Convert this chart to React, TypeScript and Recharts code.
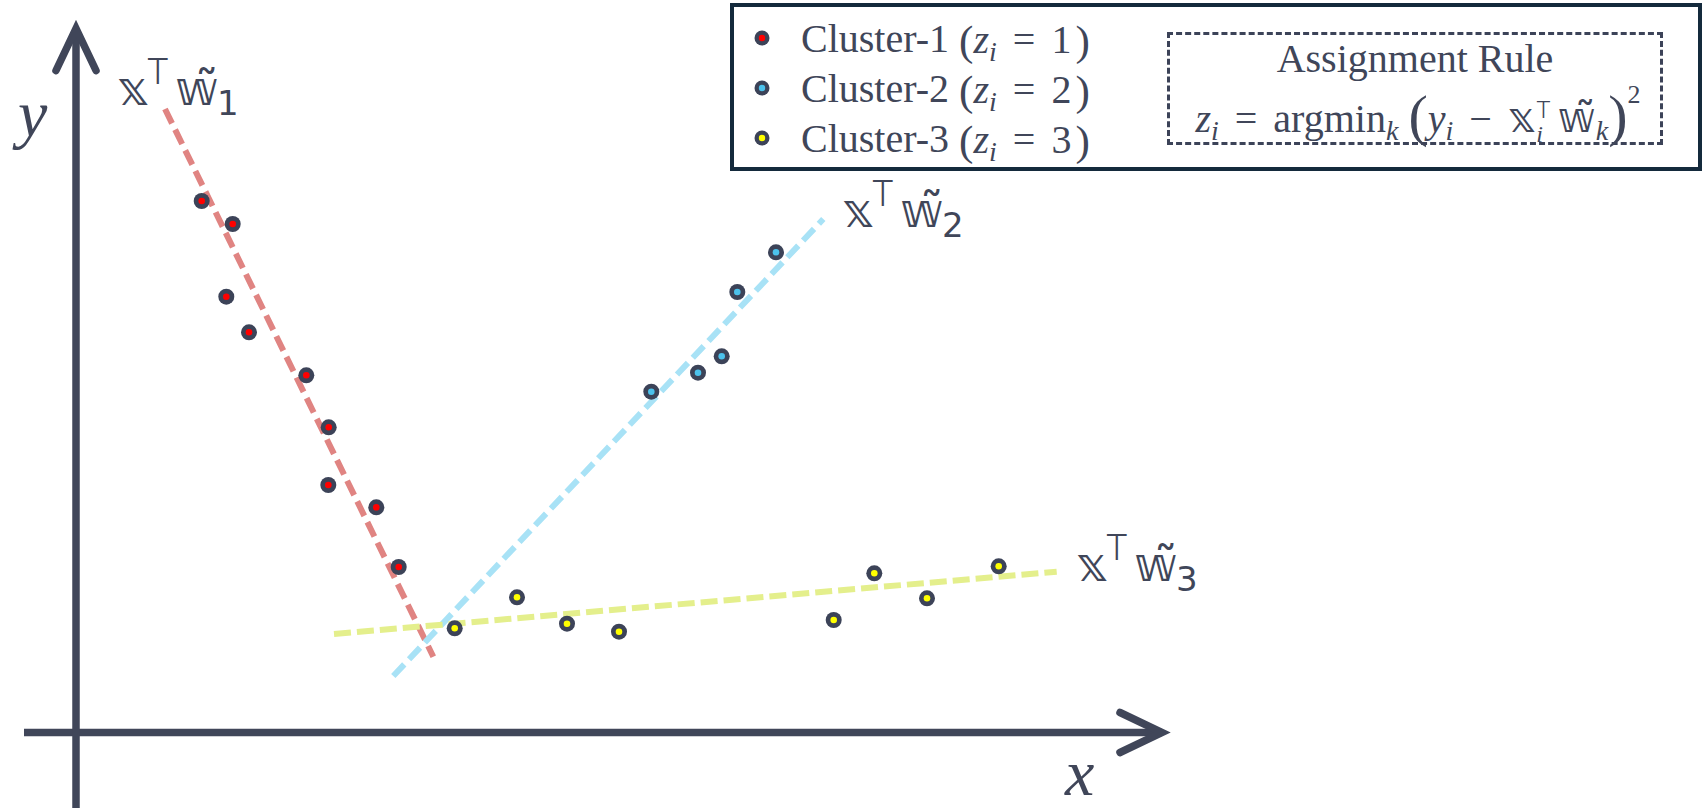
import { ScatterChart, Scatter, XAxis, YAxis, ReferenceLine, ReferenceDot, Legend } from 'recharts';

// units: tenths of a pixel from the point where the two axes cross
const clusterNames = ['Cluster-1', 'Cluster-2', 'Cluster-3'];
const clusterIds = [1, 2, 3];
const clusterColors = ['#ff0000', '#4cc2ec', '#ffff00'];
const fitColors = ['#e08482', '#a8e2f6', '#e4ef8c'];

const cluster1 = [
    { x: 12.57, y: 53.15 }, { x: 15.67, y: 50.85 }, { x: 15.03, y: 43.58 },
    { x: 17.3, y: 40.02 }, { x: 23.03, y: 35.72 }, { x: 25.27, y: 30.52 },
    { x: 25.23, y: 24.75 }, { x: 30.03, y: 22.52 }, { x: 32.27, y: 16.55 },
];
const cluster2 = [
    { x: 57.53, y: 34.08 }, { x: 62.2, y: 35.98 }, { x: 64.57, y: 37.62 },
    { x: 66.13, y: 44.05 }, { x: 70.0, y: 48.02 },
];
const cluster3 = [
    { x: 37.87, y: 10.42 }, { x: 44.1, y: 13.52 }, { x: 49.1, y: 10.88 },
    { x: 54.3, y: 10.08 }, { x: 75.77, y: 11.25 }, { x: 79.83, y: 15.92 },
    { x: 85.1, y: 13.42 }, { x: 92.27, y: 16.62 },
];

// fitted lines x^T w_k (end points)
const fit1 = [{ x: 8.9, y: 62.35 }, { x: 35.73, y: 7.58 }];
const fit2 = [{ x: 31.73, y: 5.65 }, { x: 74.73, y: 51.35 }];
const fit3 = [{ x: 25.8, y: 9.85 }, { x: 98.07, y: 16.08 }];

const fitLabelIdx = ['1', '2', '3'];
const fitLabelPos = [{ x: 4.1, y: 62.75 }, { x: 76.6, y: 50.55 }, { x: 100, y: 15.15 }];

const xAxisSeg = [{ x: -5.2, y: 0 }, { x: 108.6, y: 0 }];
const yAxisSeg = [{ x: 0, y: -7.55 }, { x: 0, y: 70.4 }];
const axisNames = ['x', 'y'];
const axisNamePos = [{ x: 98.9, y: -6.2 }, { x: -5.8, y: 59.65 }];

const xDomain = [-7.6, 162.8];
const yDomain = [-7.55, 73.25];

const INK = '#404659';
const RING = '#3c4358';

const dotShape = (color: string) => (p: any) => (
    <g>
        <circle cx={p.cx} cy={p.cy} r={8} fill={RING} />
        <circle cx={p.cx} cy={p.cy} r={3.3} fill={color} />
    </g>
);

const AxisArrow = (p: any) => {
    const { x1, y1, x2, y2 } = p;
    const len = Math.hypot(x2 - x1, y2 - y1) || 1;
    const ux = (x2 - x1) / len, uy = (y2 - y1) / len;
    const bx = x2 - ux * 42, by = y2 - uy * 42;
    const nx = -uy * 20, ny = ux * 20;
    return (
        <g stroke={INK} strokeWidth={7.5} fill="none">
            <line x1={x1} y1={y1} x2={x2} y2={y2} />
            <polyline points={`${bx + nx},${by + ny} ${x2},${y2} ${bx - nx},${by - ny}`} strokeLinecap="round" strokeLinejoin="miter" />
        </g>
    );
};

const FitLabel = (idx: string) => (p: any) => (
    <text x={p.cx} y={p.cy} fill={INK} fontFamily='"DejaVu Sans", "DejaVu Serif", sans-serif' fontSize={48}>
        <tspan x={p.cx} y={p.cy}>{'\u{1D569}'}</tspan>
        <tspan x={p.cx + 30} y={p.cy - 21} fontSize={36} fontFamily="Roboto, sans-serif" fontWeight={300}>T</tspan>
        <tspan x={p.cx + 58} y={p.cy}>{'\u{1D568}\u0303'}</tspan>
        <tspan x={p.cx + 100} y={p.cy + 10} fontSize={34}>{idx}</tspan>
    </text>
);

const AxisName = (name: string) => (p: any) => (
    <text x={p.cx} y={p.cy} fill={INK} fontFamily='"Liberation Serif", serif' fontStyle="italic" fontSize={66}>
        {name}
    </text>
);

const serif = '"Liberation Serif", "Times New Roman", serif';
const dstruck = { fontFamily: '"DejaVu Sans", sans-serif', fontSize: '1.05em' };

const Sub = ({ children, italic = true }: any) => (
    <span style={{ fontSize: '0.7em', position: 'relative', top: '0.3em', fontStyle: italic ? 'italic' : 'normal' }}>{children}</span>
);

const Paren = ({ children, size = '1.3em' }: any) => (
    <span style={{ fontSize: size, position: 'relative', top: '0.05em' }}>{children}</span>
);

const LegendBox = ({ payload }: any) => (
    <div style={{
        width: 972, height: 168, boxSizing: 'border-box', border: '4px solid #142a3c', background: '#fff',
        position: 'relative', fontFamily: serif, color: INK, fontSize: 40,
    }}>
        {(payload || []).map((p: any, i: number) => (
            <div key={p.value} style={{ position: 'absolute', left: 19, top: 6 + i * 50, height: 50, display: 'flex', alignItems: 'center', whiteSpace: 'nowrap' }}>
                <svg width={18} height={18}>
                    <circle cx={9} cy={9} r={7.5} fill={RING} />
                    <circle cx={9} cy={9} r={3.2} fill={p.color} />
                </svg>
                <span style={{ marginLeft: 30 }}>{p.value}</span>
                <span style={{ marginLeft: 10 }}>
                    <Paren size="1.08em">(</Paren><i>z</i><Sub>i</Sub>
                    <span style={{ margin: '0 16px' }}>=</span>
                    {clusterIds[i]}<span style={{ marginLeft: 4 }} /><Paren size="1.08em">)</Paren>
                </span>
            </div>
        ))}
        <div style={{
            position: 'absolute', left: 433, top: 25, width: 496, height: 113, boxSizing: 'border-box',
            border: '3px dashed #3c4358', textAlign: 'center', whiteSpace: 'nowrap',
        }}>
            <div style={{ marginTop: 1, lineHeight: '46px' }}>Assignment Rule</div>
            <div style={{ lineHeight: '62px', marginLeft: -8, marginRight: -14 }}>
                <i>z</i><Sub>i</Sub><span style={{ margin: '0 16px' }}>=</span>argmin<Sub>k</Sub>
                <span style={{ marginLeft: 10 }} />
                <Paren size="1.45em">(</Paren>
                <i>y</i><Sub>i</Sub><span style={{ margin: '0 16px' }}>−</span>
                <span style={dstruck}>{'\u{1D569}'}</span>
                <span style={{ display: 'inline-block', verticalAlign: '-0.4em', lineHeight: 1, fontSize: '0.6em', textAlign: 'left', marginRight: 7 }}>
                    <span style={{ display: 'block', fontFamily: 'Roboto, sans-serif', fontWeight: 300 }}>T</span>
                    <span style={{ display: 'block', fontStyle: 'italic' }}>i</span>
                </span>
                <span style={dstruck}>{'\u{1D568}\u0303'}</span><Sub>k</Sub>
                <Paren size="1.45em">)</Paren>
                <span style={{ fontSize: '0.65em', position: 'relative', top: '-1.1em' }}>2</span>
            </div>
        </div>
    </div>
);

export default function App() {
    return (
        <div style={{ position: 'absolute', left: 0, top: 0, width: 1704, height: 808, background: '#fff' }}>
            <ScatterChart width={1704} height={808} margin={{ top: 0, right: 0, bottom: 0, left: 0 }}>
                <XAxis type="number" dataKey="x" domain={xDomain} allowDataOverflow hide />
                <YAxis type="number" dataKey="y" domain={yDomain} allowDataOverflow hide />
                <ReferenceLine segment={xAxisSeg} ifOverflow="visible" shape={AxisArrow} />
                <ReferenceLine segment={yAxisSeg} ifOverflow="visible" shape={AxisArrow} />
                <ReferenceLine segment={fit1} ifOverflow="visible" stroke={fitColors[0]} strokeWidth={6} strokeDasharray="16 7" />
                <ReferenceLine segment={fit2} ifOverflow="visible" stroke={fitColors[1]} strokeWidth={6} strokeDasharray="16 7" />
                <ReferenceLine segment={fit3} ifOverflow="visible" stroke={fitColors[2]} strokeWidth={6} strokeDasharray="17 6" />
                <Scatter name={clusterNames[0]} data={cluster1} fill={clusterColors[0]} shape={dotShape(clusterColors[0])} isAnimationActive={false} />
                <Scatter name={clusterNames[1]} data={cluster2} fill={clusterColors[1]} shape={dotShape(clusterColors[1])} isAnimationActive={false} />
                <Scatter name={clusterNames[2]} data={cluster3} fill={clusterColors[2]} shape={dotShape(clusterColors[2])} isAnimationActive={false} />
                {fitLabelPos.map((pos, i) => (
                    <ReferenceDot key={'f' + i} x={pos.x} y={pos.y} r={0} ifOverflow="visible" shape={FitLabel(fitLabelIdx[i])} />
                ))}
                {axisNamePos.map((pos, i) => (
                    <ReferenceDot key={'a' + i} x={pos.x} y={pos.y} r={0} ifOverflow="visible" shape={AxisName(axisNames[i])} />
                ))}
                <Legend layout="vertical" verticalAlign="middle" align="center" content={LegendBox}
                    wrapperStyle={{ position: 'absolute', left: 730, top: 3, width: 972, height: 168 }} />
            </ScatterChart>
        </div>
    );
}
